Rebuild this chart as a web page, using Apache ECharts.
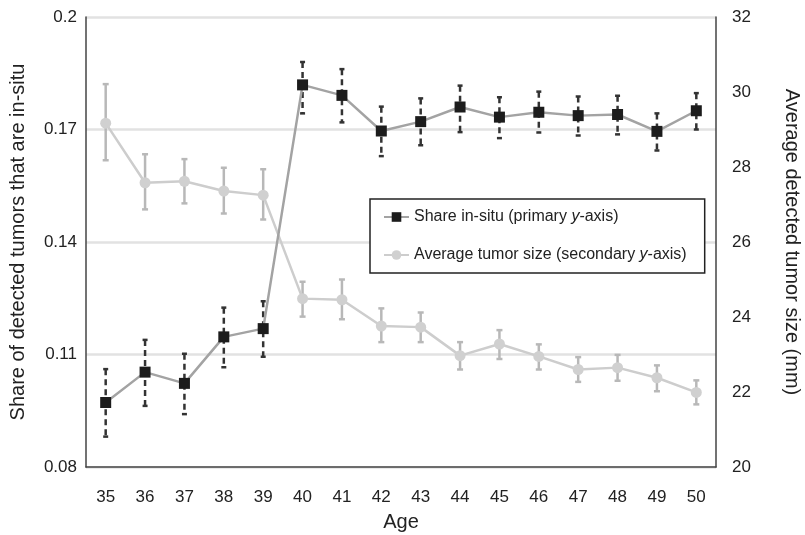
<!DOCTYPE html>
<html>
<head>
<meta charset="utf-8">
<script src="https://cdn.jsdelivr.net/npm/echarts@6/dist/echarts.min.js"></script>
<style>
  html, body { margin: 0; padding: 0; background: #fff; }
  #main { width: 805px; height: 535px; }
</style>
</head>
<body>
<div id="main"></div>
<script>
// 数据
var ages = ['35', '36', '37', '38', '39', '40', '41', '42', '43', '44', '45', '46', '47', '48', '49', '50'];

var shareInSitu = [0.0972, 0.1053, 0.1023, 0.1147, 0.1169, 0.1819, 0.1791, 0.1696, 0.1721, 0.1760, 0.1733, 0.1746, 0.1737, 0.1740, 0.1695, 0.1750];
var shareLow    = [0.0881, 0.0963, 0.0941, 0.1066, 0.1094, 0.1743, 0.1719, 0.1629, 0.1658, 0.1693, 0.1677, 0.1692, 0.1684, 0.1687, 0.1644, 0.1700];
var shareHigh   = [0.1061, 0.1139, 0.1102, 0.1225, 0.1242, 0.1880, 0.1861, 0.1761, 0.1783, 0.1817, 0.1786, 0.1801, 0.1788, 0.1790, 0.1743, 0.1797];

var tumorSize = [29.17, 27.58, 27.62, 27.36, 27.25, 24.49, 24.46, 23.76, 23.73, 22.97, 23.28, 22.95, 22.60, 22.65, 22.38, 21.99];
var sizeLow   = [28.18, 26.87, 27.03, 26.76, 26.60, 24.01, 23.94, 23.33, 23.33, 22.60, 22.88, 22.60, 22.27, 22.30, 22.02, 21.67];
var sizeHigh  = [30.21, 28.34, 28.21, 27.98, 27.94, 24.94, 25.00, 24.23, 24.12, 23.33, 23.65, 23.27, 22.93, 22.99, 22.71, 22.31];

var leftTicks = [0.08, 0.11, 0.14, 0.17, 0.2];

var nameShare = 'Share in-situ (primary y-axis)';
var nameSize = 'Average tumor size (secondary y-axis)';

// 误差线数据 [index, low, high]
function errData(low, high) {
    var out = [];
    for (var i = 0; i < low.length; i++) {
        out.push([i, low[i], high[i]]);
    }
    return out;
}

function errorBar(capW, color, dash) {
    return function (params, api) {
        var top = api.coord([api.value(0), api.value(2)]);
        var bot = api.coord([api.value(0), api.value(1)]);
        var lineStyle = { stroke: color, lineWidth: 2.5, lineDash: dash };
        var capStyle = { stroke: color, lineWidth: 2.5 };
        return {
            type: 'group',
            children: [
                { type: 'line', shape: { x1: top[0], y1: top[1], x2: bot[0], y2: bot[1] }, style: lineStyle },
                { type: 'line', shape: { x1: top[0] - capW / 2, y1: top[1], x2: top[0] + capW / 2, y2: top[1] }, style: capStyle },
                { type: 'line', shape: { x1: bot[0] - capW / 2, y1: bot[1], x2: bot[0] + capW / 2, y2: bot[1] }, style: capStyle }
            ]
        };
    };
}

var myChart = echarts.init(document.getElementById('main'));

var font = 'Liberation Sans, Arial, sans-serif';

var option = {
    animation: false,
    textStyle: { fontFamily: font },
    grid: { left: 86, right: 89, top: 17, bottom: 68, containLabel: false, outerBoundsMode: 'none' },
    legend: {
        data: [nameShare, nameSize],
        orient: 'vertical',
        left: 370,
        top: 199,
        itemGap: 22,
        itemWidth: 25,
        itemHeight: 12,
        padding: [10, 18, 10, 13],
        borderColor: '#222',
        borderWidth: 1.5,
        backgroundColor: '#fff',
        textStyle: {
            fontSize: 16, color: '#222', fontFamily: font,
            rich: { i: { fontStyle: 'italic', fontSize: 16, color: '#222', fontFamily: font } }
        },
        formatter: function (name) {
            return name.replace('y-axis', '{i|y}-axis');
        }
    },
    xAxis: {
        type: 'category',
        data: ages,
        name: 'Age',
        nameLocation: 'middle',
        nameGap: 45,
        nameTextStyle: { fontSize: 20, color: '#222' },
        axisLine: { lineStyle: { color: '#444', width: 1.5 } },
        axisTick: { show: false },
        axisLabel: { fontSize: 17, color: '#222', margin: 22 }
    },
    yAxis: [{
        type: 'value',
        min: 0.08,
        max: 0.2,
        name: 'Share of detected tumors that are in-situ',
        nameLocation: 'middle',
        nameRotate: 90,
        nameGap: 58,
        nameTextStyle: { fontSize: 20, color: '#222' },
        axisLine: { show: true, lineStyle: { color: '#444', width: 1.5 } },
        axisTick: { show: false, customValues: leftTicks },
        axisLabel: { fontSize: 17, color: '#222', margin: 9, customValues: leftTicks },
        splitLine: { show: true, lineStyle: { color: '#e2e2e2', width: 2.5 } }
    }, {
        type: 'value',
        min: 20,
        max: 32,
        interval: 2,
        name: 'Average detected tumor size (mm)',
        nameLocation: 'middle',
        nameRotate: -90,
        nameGap: 66,
        nameTextStyle: { fontSize: 20, color: '#222' },
        axisLine: { show: true, lineStyle: { color: '#444', width: 1.5 } },
        axisTick: { show: false },
        axisLabel: { fontSize: 17, color: '#222', margin: 16 },
        splitLine: { show: false }
    }],
    series: [{
        name: 'sizeErr',
        type: 'custom',
        yAxisIndex: 1,
        z: 1,
        encode: { x: 0, y: [1, 2] },
        data: errData(sizeLow, sizeHigh),
        renderItem: errorBar(6, '#b8b8b8', null)
    }, {
        name: 'shareErr',
        type: 'custom',
        yAxisIndex: 0,
        z: 1,
        encode: { x: 0, y: [1, 2] },
        data: errData(shareLow, shareHigh),
        renderItem: errorBar(5, '#333', [6, 4])
    }, {
        name: nameSize,
        type: 'line',
        yAxisIndex: 1,
        z: 2,
        data: tumorSize,
        symbol: 'circle',
        symbolSize: 11,
        itemStyle: { color: '#d0d0d0' },
        lineStyle: { color: '#cdcdcd', width: 2.5 }
    }, {
        name: nameShare,
        type: 'line',
        yAxisIndex: 0,
        z: 3,
        data: shareInSitu,
        symbol: 'rect',
        symbolSize: 11,
        itemStyle: { color: '#1c1c1c' },
        lineStyle: { color: '#a3a3a3', width: 2.5 }
    }]
};

myChart.setOption(option);
</script>
</body>
</html>
